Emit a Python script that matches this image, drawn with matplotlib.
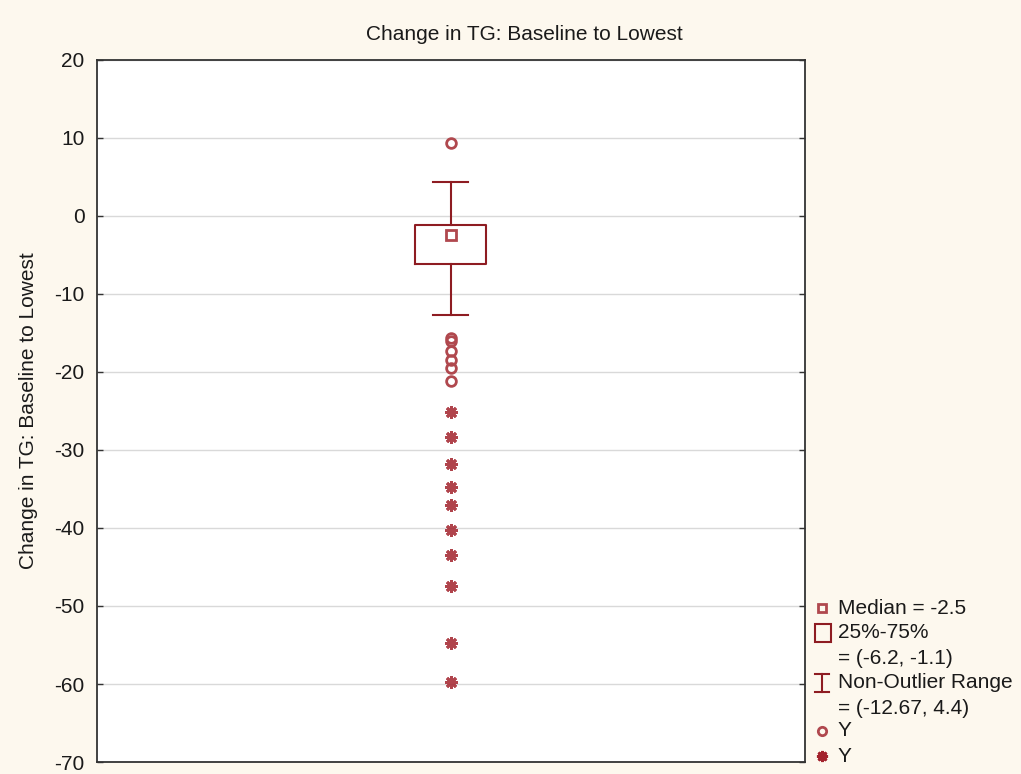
import matplotlib
matplotlib.use("Agg")
import matplotlib.pyplot as plt
from matplotlib.lines import Line2D
from matplotlib.patches import Rectangle

plt.rcParams['font.family'] = ['Liberation Sans', 'DejaVu Sans']

# Summary statistics of the change in TG (baseline to lowest)
median = -2.5
q1, q3 = -6.2, -1.1
whisker_lo, whisker_hi = -12.67, 4.4
outliers = [9.3, -15.7, -16.0, -17.3, -18.5, -19.5, -21.2]
extremes = [-25.1, -28.3, -31.8, -34.8, -37.0, -40.3, -43.5, -47.5, -54.7, -59.7]

title = "Change in TG: Baseline to Lowest"
y_ticks = [20, 10, 0, -10, -20, -30, -40, -50, -60, -70]

dark_red = "#8e1c22"
light_red = "#b0484e"
star_red = "#a3232d"
FS = 15

fig = plt.figure(figsize=(10.21, 7.74), dpi=100, facecolor="#fdf8ee")
ax = fig.add_axes([0.095, 0.0155, 0.693, 0.907])
ax.set_facecolor("white")

stats = [dict(med=median, q1=q1, q3=q3, whislo=whisker_lo, whishi=whisker_hi, fliers=[])]
ax.bxp(stats, positions=[0], widths=0.2, showfliers=False,
       boxprops=dict(color=dark_red, linewidth=1.5),
       whiskerprops=dict(color=dark_red, linewidth=1.5),
       capprops=dict(color=dark_red, linewidth=1.5),
       medianprops=dict(linewidth=0), capwidths=0.1)
ax.plot([0], [median], marker="s", ms=7, mfc="none", mec=light_red, mew=2, ls="none", zorder=4)
ax.plot([0] * len(outliers), outliers, marker="o", ms=7, mfc="none", mec=light_red,
        mew=2, ls="none", zorder=4)
ax.plot([0] * len(extremes), extremes, marker=(8, 2, 0), ms=9, mec=star_red,
        mew=2, ls="none", zorder=4, alpha=0.85)

ax.set_xlim(-1, 1)
ax.set_ylim(-70, 20)
ax.set_yticks(y_ticks)
ax.set_yticklabels([str(t) for t in y_ticks], fontsize=FS)
ax.set_xticks([])
ax.tick_params(axis="y", direction="in", length=4, width=1, right=True, pad=9,
               colors="#333333", labelcolor="#1a1a1a")
ax.grid(axis="y", color="#d9d9d9", linewidth=1)
ax.set_axisbelow(True)
for s in ax.spines.values():
    s.set_color("#333333")
    s.set_linewidth(1.3)

ax.set_ylabel(title, fontsize=FS, color="#1a1a1a", labelpad=12)
fig.text(524 / 1021, 1 - 35 / 774, title, ha="center", va="center", fontsize=FS, color="#1a1a1a")

# Legend drawn beside the plot area
mx = 822 / 1021
tx = 838 / 1021
def fy(p):
    return 1 - p / 774

legend_rows = [
    ("Median = %g" % median, "median", 608),
    ("25%-75%", "box", 633),
    ("= (%g, %g)" % (q1, q3), None, 658),
    ("Non-Outlier Range", "range", 683),
    ("= (%g, %g)" % (whisker_lo, whisker_hi), None, 708),
    ("Y", "circle", 731),
    ("Y", "star", 756),
]
for label, kind, py in legend_rows:
    fig.text(tx, fy(py), label, ha="left", va="center", fontsize=FS, color="#1a1a1a")
    if kind == "median":
        fig.add_artist(Line2D([mx], [fy(py)], marker="s", ms=6, mfc="none", mec=light_red,
                              mew=2, ls="none", transform=fig.transFigure))
    elif kind == "box":
        fig.add_artist(Rectangle((815 / 1021, fy(py + 9)), 16 / 1021, 18 / 774, fill=False,
                                 edgecolor=dark_red, linewidth=1.5, transform=fig.transFigure))
    elif kind == "range":
        x0, x1 = 815 / 1021, 829 / 1021
        for yy in (py - 9, py + 9):
            fig.add_artist(Line2D([x0, x1], [fy(yy), fy(yy)], color=dark_red, lw=1.5,
                                  transform=fig.transFigure))
        fig.add_artist(Line2D([mx, mx], [fy(py - 9), fy(py + 9)], color=dark_red, lw=1.5,
                              transform=fig.transFigure))
    elif kind == "circle":
        fig.add_artist(Line2D([mx], [fy(py)], marker="o", ms=6, mfc="none", mec=light_red,
                              mew=2, ls="none", transform=fig.transFigure))
    elif kind == "star":
        fig.add_artist(Line2D([mx], [fy(py)], marker=(8, 2, 0), ms=8, mec=star_red,
                              mew=2, ls="none", transform=fig.transFigure))

fig.savefig("out.png", dpi=100, facecolor=fig.get_facecolor())
